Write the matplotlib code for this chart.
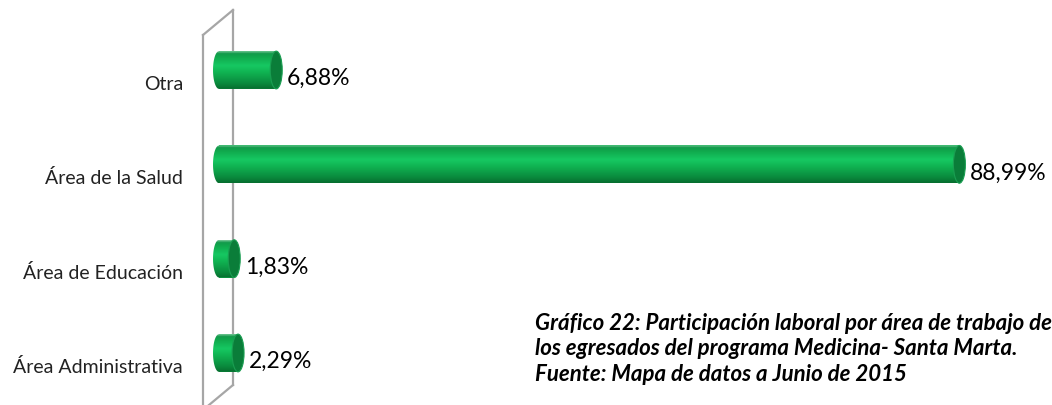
import numpy as np
import matplotlib
matplotlib.use('Agg')
import matplotlib.pyplot as plt
from matplotlib.patches import Ellipse, PathPatch
from matplotlib.path import Path
from matplotlib.colors import LinearSegmentedColormap
from matplotlib.lines import Line2D

# datos: participación laboral por área de trabajo
categorias = ['Área Administrativa', 'Área de Educación', 'Área de la Salud', 'Otra']
valores = [2.29, 1.83, 88.99, 6.88]
etiquetas = ['2,29%', '1,83%', '88,99%', '6,88%']

W, H = 1052, 405
fig = plt.figure(figsize=(W / 100, H / 100), dpi=100)

# ejes a todo el lienzo: x=0 en 219 px, 8.32 px por unidad; filas cada 94.3 px
x0_px, px_unit, fila_px = 219, 8.32, 94.3
ax = fig.add_axes([0, 0, 1, 1])
ax.axis('off')

# pared lateral (gris), detrás de las barras
gris = '#a6a6a6'
for (xa, ya), (xb, yb) in [((203, 35), (233, 10)), ((233, 10), (233, 385)),
                           ((233, 385), (203, 410)), ((203, 35), (203, 410))]:
    fig.add_artist(Line2D([xa / W, xb / W], [1 - ya / H, 1 - yb / H],
                          color=gris, lw=1.6, zorder=-1))

alto = 0.40
cap = 1.44  # ancho de la tapa elíptica en unidades de datos
verde = LinearSegmentedColormap.from_list(
    'cil', [(0.0, '#076d2f'), (0.15, '#0a8a3d'), (0.45, '#10b553'),
            (0.62, '#16c862'), (0.85, '#10a84c'), (0.94, '#129a4b'),
            (1.0, '#7fc99c')])
grad = np.linspace(0, 1, 128).reshape(-1, 1)

y = np.arange(len(categorias))
barras = ax.barh(y, valores, height=alto, color='#10b553', lw=0, zorder=3)
for b, v, yi, lab in zip(barras, valores, y, etiquetas):
    yb0, yb1 = b.get_y(), b.get_y() + b.get_height()
    # contorno: media elipse a la izquierda + cuerpo hasta el valor
    t = np.linspace(np.pi / 2, 3 * np.pi / 2, 40)
    xs = np.concatenate([cap / 2 * np.cos(t), [v, v]])
    ys = np.concatenate([yi + alto / 2 * np.sin(t), [yb0, yb1]])
    cuerpo = PathPatch(Path(np.column_stack([xs, ys]), closed=False),
                       transform=ax.transData, visible=False)
    ax.add_patch(cuerpo)
    im = ax.imshow(grad, cmap=verde, extent=(-cap, v + 0.1, yb0, yb1),
                   aspect='auto', origin='lower', zorder=4,
                   interpolation='bilinear')
    im.set_clip_path(cuerpo)
    # tapa derecha
    ax.add_patch(Ellipse((v, yi), cap, alto, facecolor='#0a7d39',
                         edgecolor='#1a9e52', lw=0.8, zorder=5))
    ax.text(v + cap / 2 + 0.55, yi - 15 / fila_px, lab, va='baseline',
            ha='left', fontsize=16.5, family='Lato', color='black', zorder=6)

for yi, c in zip(y, categorias):
    ax.text(-36 / px_unit, yi - 20 / fila_px, c, ha='right', va='baseline',
            fontsize=14, family='Lato', color='#222222')

# título / fuente
txt = ('Gráfico 22: Participación laboral por área de trabajo de\n'
       'los egresados del programa Medicina- Santa Marta.\n'
       'Fuente: Mapa de datos a Junio de 2015')
fig.text(535 / W, 1 - 313 / H, txt, ha='left', va='top', fontsize=16,
         family='Lato', fontweight='bold', style='italic', linespacing=1.26,
         multialignment='left')

ax.set_xlim(-x0_px / px_unit, (W - x0_px) / px_unit)
ax.set_ylim(-(H - 353) / fila_px, 3 + 70 / fila_px)
fig.savefig('out.png', dpi=100)
